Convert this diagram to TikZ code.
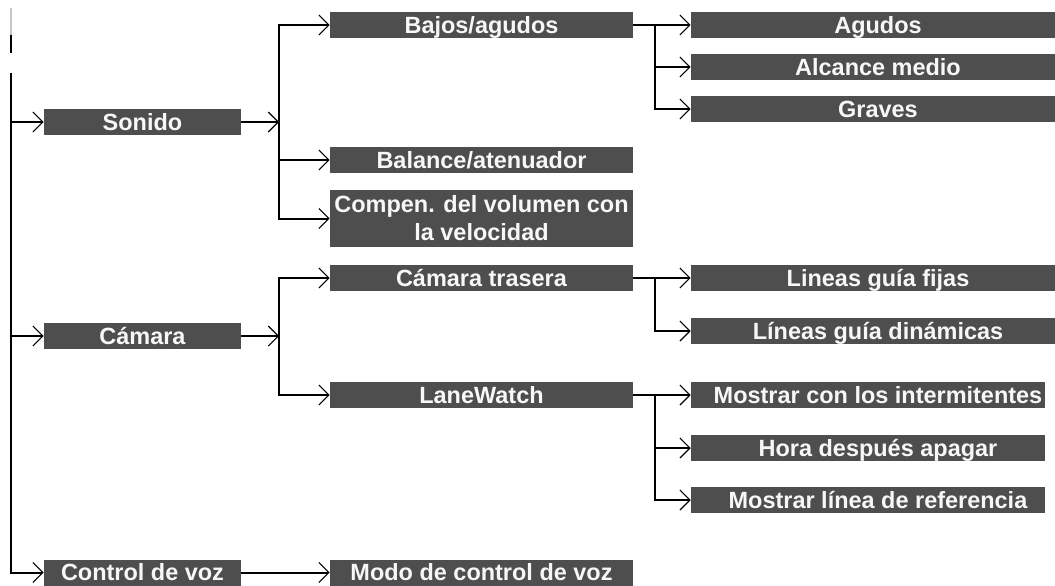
\documentclass[tikz,border=0pt]{standalone}
\usepackage{fontspec}
\setmainfont{Liberation Sans}
\usetikzlibrary{arrows.meta}
\definecolor{boxgray}{HTML}{4E4E4E}
\definecolor{boxtext}{HTML}{F7F7F7}
\tikzset{
  boxbase/.style={fill=boxgray, text=boxtext, inner sep=0pt, minimum height=19.5pt,
    font=\fontsize{17.6}{21}\selectfont\bfseries},
  box/.style={boxbase, text height=12.6pt, text depth=0pt},
  boxtwo/.style={boxbase, align=center, minimum height=42.75pt},
  lcol/.style={minimum width=147.75pt},
  mcol/.style={minimum width=227.25pt},
  rcol/.style={minimum width=280.5pt},
  rcolb/.style={minimum width=265.5pt},
  conn/.style={line width=1.5pt, black},
  arr/.style={conn, -{Straight Barb[length=7.5pt,width=15pt,line width=0.8pt]}},
  arrboth/.style={conn, {Straight Barb[length=7.5pt,width=15pt,line width=0.8pt]}-{Straight Barb[length=7.5pt,width=15pt,line width=0.8pt]}}
}
\newcommand{\txtoffset}{\hspace*{15pt}}
\begin{document}
\begin{tikzpicture}[x=0.75pt,y=-0.75pt]
\useasboundingbox (0,0) rectangle (1055,585);
% junction columns
\coordinate (jt) at (11,0);
\coordinate (ja) at (279,0);
\coordinate (jb) at (655,0);
\coordinate (ttop) at (11,8);
\coordinate (tmid) at (11,35);
\coordinate (tend) at (11,53);
\coordinate (tstart) at (11,73);
% first level
\node[box,lcol] (son) at (142.5,122) {Sonido};
\node[box,lcol] (cam) at (142.5,336) {Cámara};
\node[box,lcol] (voz) at (142.5,572.5) {Control de voz};
% second level
\node[box,mcol] (baj) at (481.5,25) {Bajos/agudos};
\node[box,mcol] (bal) at (481.5,160) {Balance/atenuador};
\node[boxtwo,mcol] (com) at (481.5,218.5) {Compen. del volumen con\\la velocidad};
\node[box,mcol] (ctr) at (481.5,278) {Cámara trasera};
\node[box,mcol] (lane) at (481.5,395) {LaneWatch};
\node[box,mcol] (modo) at (481.5,572.5) {Modo de control de voz};
% third level
\node[box,rcol] (agu) at (878,25) {Agudos};
\node[box,rcol] (alc) at (878,67) {Alcance medio};
\node[box,rcol] (gra) at (878,109) {Graves};
\node[box,rcol] (lgf) at (878,278) {Lineas guía fijas};
\node[box,rcol] (lgd) at (878,331) {Líneas guía dinámicas};
\node[box,rcolb] (mci) at (868,395) {\txtoffset Mostrar con los intermitentes};
\node[box,rcolb] (hda) at (868,448) {\txtoffset Hora después apagar};
\node[box,rcolb] (mlr) at (868,500) {\txtoffset Mostrar línea de referencia};
% trunk
\draw[gray!45, line width=0.9pt] (ttop) -- (tmid);
\draw[conn] (tmid) -- (tend);
\draw[arr] (tstart) |- (voz.west);
\draw[arr] (jt |- son.west) -- (son.west);
\draw[arr] (jt |- cam.west) -- (cam.west);
\draw[arr] (voz.east) -- (modo.west);
% Sonido branch
\draw[arr] (son.east) -- (son.east -| ja);
\draw[arrboth] (baj.west) -| (ja |- com.west) -- (com.west);
\draw[arr] (ja |- bal.west) -- (bal.west);
% Bajos/agudos branch
\draw[conn] (baj.east) -- (baj.east -| jb);
\draw[arrboth] (agu.west) -| (jb |- gra.west) -- (gra.west);
\draw[arr] (jb |- alc.west) -- (alc.west);
% Camara branch
\draw[arr] (cam.east) -- (cam.east -| ja);
\draw[arrboth] (ctr.west) -| (ja |- lane.west) -- (lane.west);
% Camara trasera branch
\draw[conn] (ctr.east) -- (ctr.east -| jb);
\draw[arrboth] (lgf.west) -| (jb |- lgd.west) -- (lgd.west);
% LaneWatch branch
\draw[conn] (lane.east) -- (lane.east -| jb);
\draw[arrboth] (mci.west) -| (jb |- mlr.west) -- (mlr.west);
\draw[arr] (jb |- hda.west) -- (hda.west);
\end{tikzpicture}
\end{document}
